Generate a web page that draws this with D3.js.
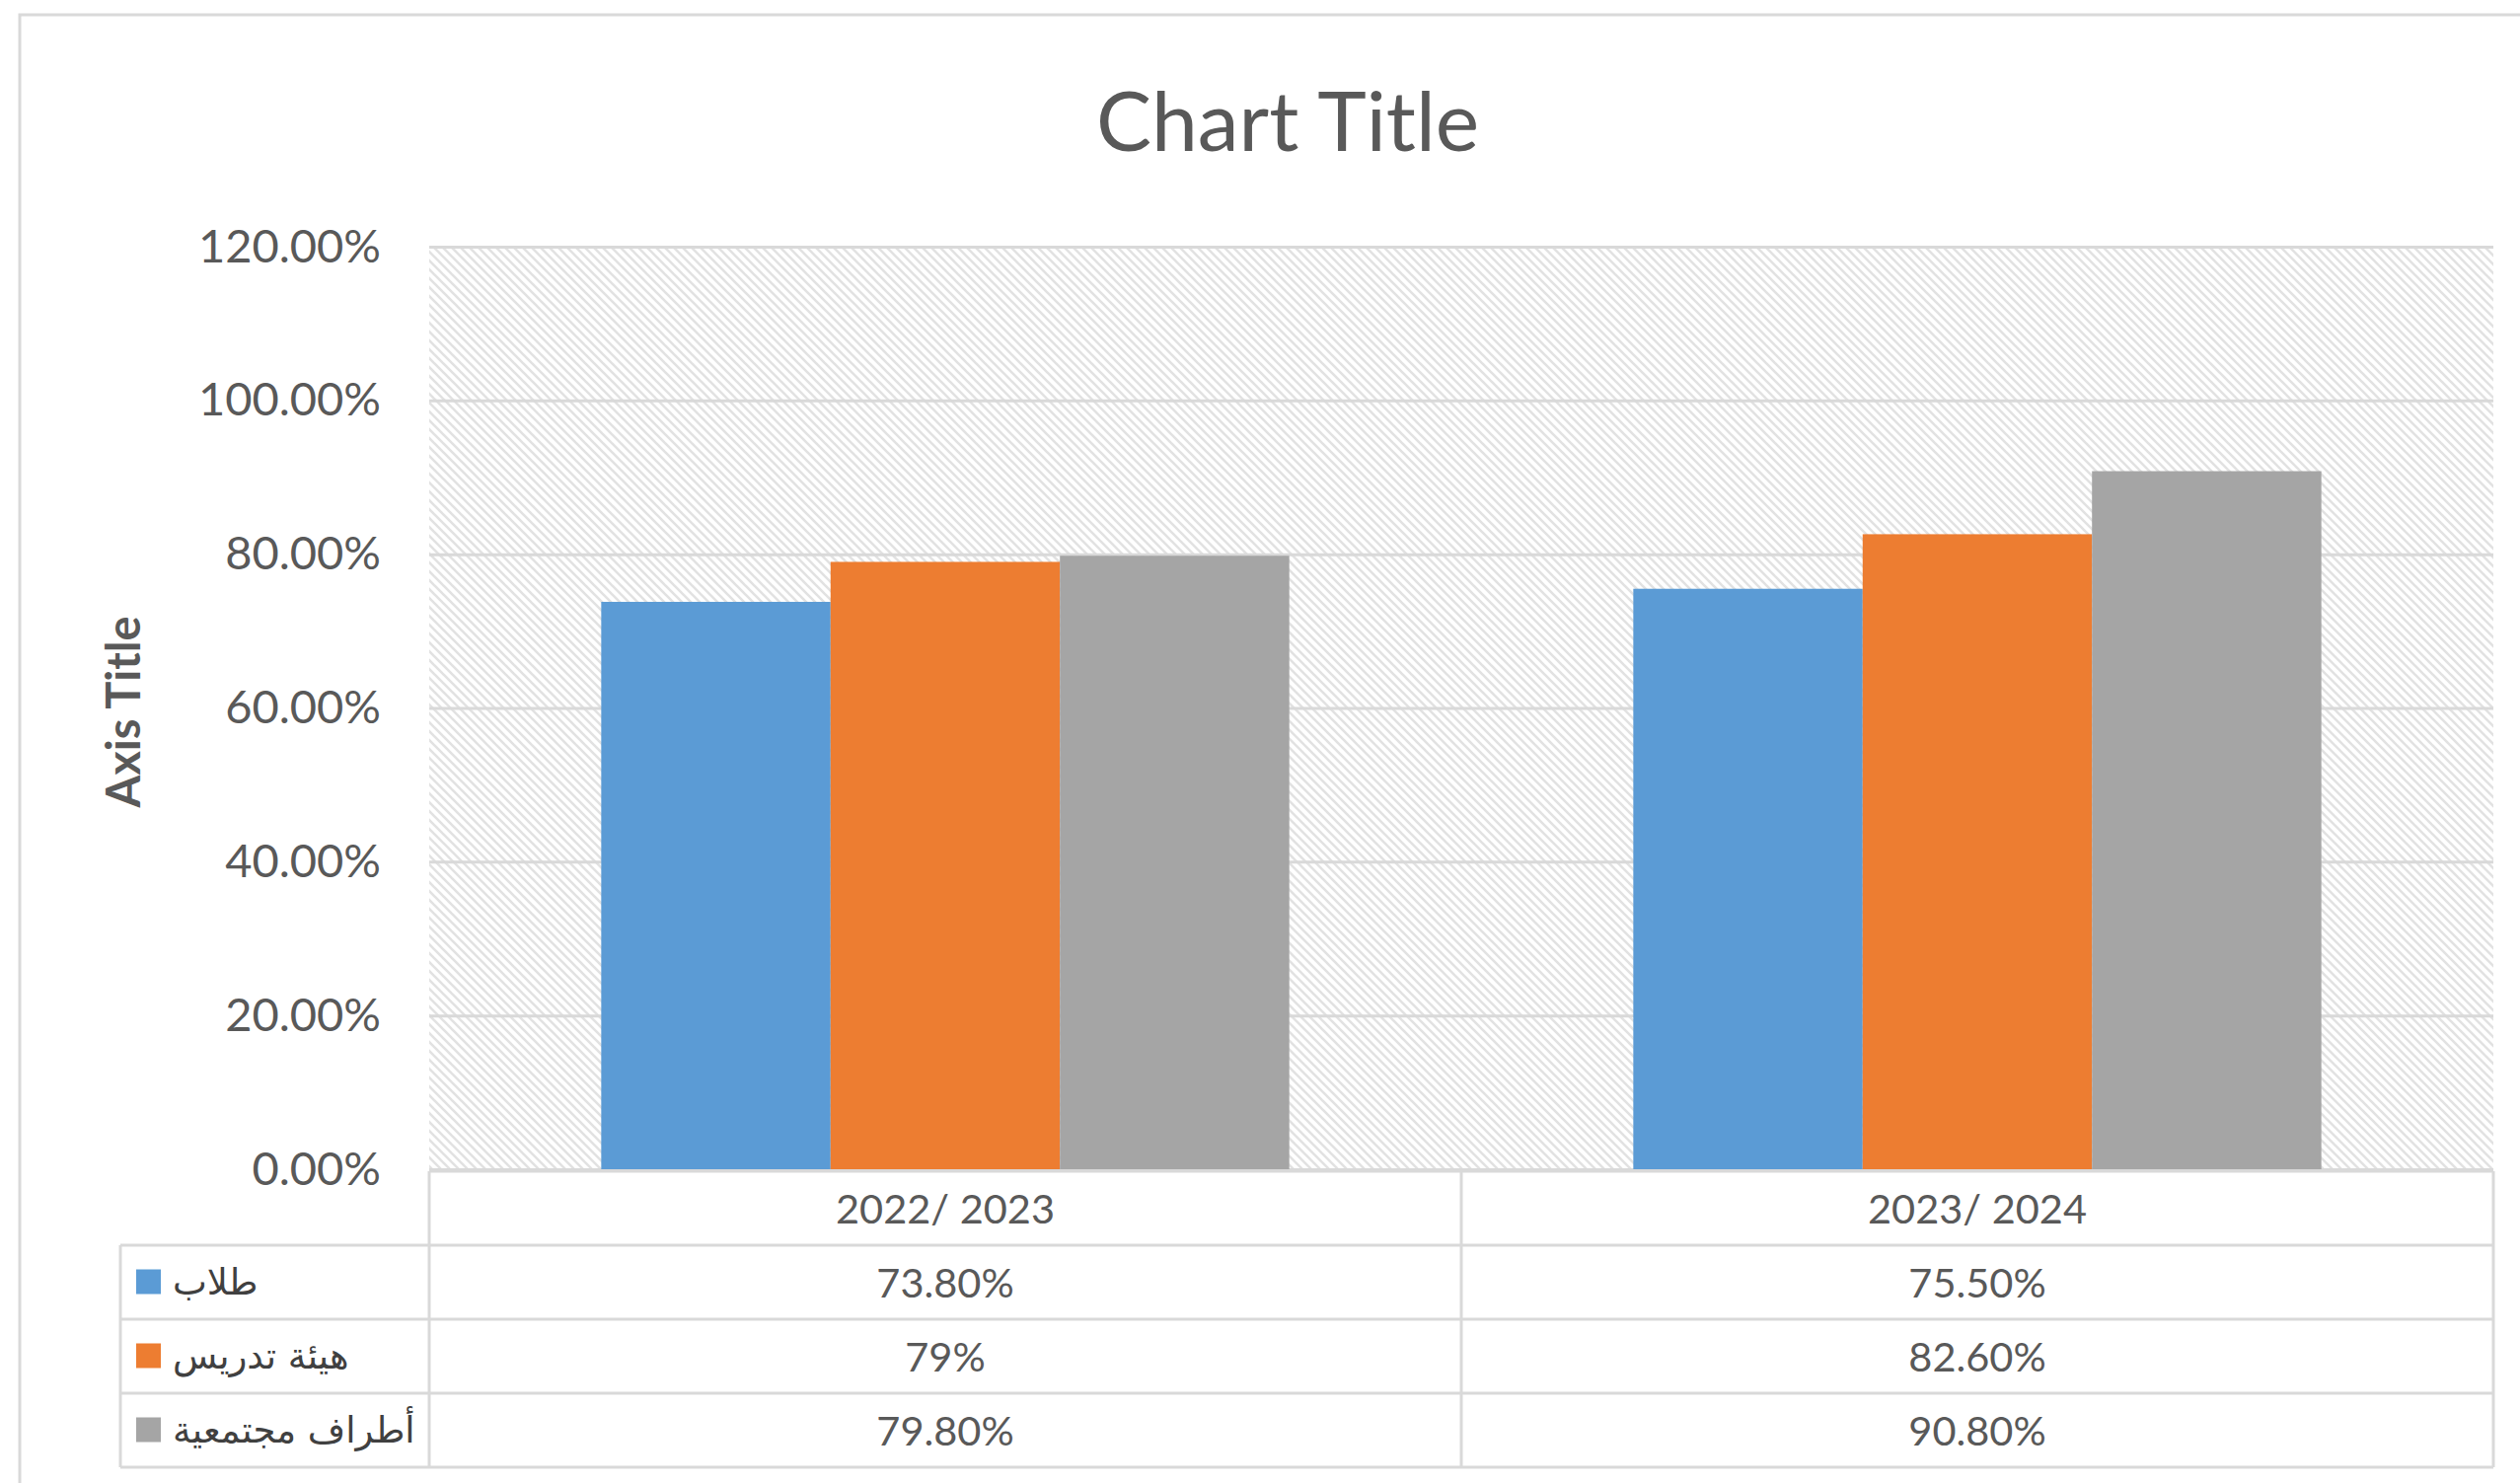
<!DOCTYPE html>
<html>
<head>
<meta charset="utf-8">
<script src="https://cdn.jsdelivr.net/npm/d3@7"></script>
<style>
	body { margin: 0; background: #fff; }
	svg { display: block; }
	text { font-family: Lato, 'Open Sans', sans-serif; fill: #595959; }
	.ar { font-family: 'DejaVu Sans', sans-serif; fill: #404040; }
</style>
</head>
<body>
<svg id="main-svg" width="2554" height="1503"></svg>
<script>
// data
const categories = ['2022/ 2023', '2023/ 2024'];
const seriesNames = ['طلاب', 'هيئة تدريس', 'أطراف مجتمعية'];
const seriesColors = ['#5B9BD5', '#ED7D31', '#A5A5A5'];
const students = [0.738, 0.755];
const faculty = [0.79, 0.826];
const community = [0.798, 0.908];
const yTicks = [0, 0.2, 0.4, 0.6, 0.8, 1.0, 1.2];

const seriesValues = [students, faculty, community];

const W = 2554, H = 1503;
const plot = { left: 435, right: 2527, top: 250, bottom: 1185 };
const tableTop = 1187, rowH = 75, tableLeft = 122;

var svg = d3.select('#main-svg');

// chart frame
svg.append('rect')
	.attr('x', 20).attr('y', 15)
	.attr('width', W + 20).attr('height', H + 20)
	.attr('fill', '#fff')
	.attr('stroke', '#d9d9d9')
	.attr('stroke-width', 3);

// hatch pattern for plot area
let defs = svg.append('defs');
let pat = defs.append('pattern')
	.attr('id', 'hatch')
	.attr('patternUnits', 'userSpaceOnUse')
	.attr('width', 9).attr('height', 9);
pat.append('path')
	.attr('d', 'M0,0 L9,9 M-2,7 L2,11 M7,-2 L11,2')
	.attr('stroke', '#e2e2e2')
	.attr('stroke-width', 2.6);

let x0 = d3.scaleBand()
	.domain(categories)
	.range([plot.left, plot.right])
	.padding(0);

let x1 = d3.scaleBand()
	.domain(d3.range(seriesNames.length))
	.range([0, x0.bandwidth()])
	.paddingInner(0)
	.paddingOuter(0.75);

let y = d3.scaleLinear()
	.domain([0, 1.2])
	.range([plot.bottom, plot.top]);

svg.append('rect')
	.attr('x', plot.left).attr('y', plot.top)
	.attr('width', plot.right - plot.left)
	.attr('height', plot.bottom - plot.top)
	.attr('fill', 'url(#hatch)');

// gridlines
let grid = svg.append('g')
	.attr('transform', `translate(${plot.left},0)`)
	.call(d3.axisLeft(y).tickValues(yTicks).tickSize(-(plot.right - plot.left)).tickFormat(''));
grid.select('.domain').remove();
grid.selectAll('line').attr('stroke', '#d9d9d9').attr('stroke-width', 3);

// y axis labels
let yAxis = svg.append('g')
	.attr('transform', `translate(${plot.left},0)`)
	.call(d3.axisLeft(y).tickValues(yTicks).tickSize(0).tickPadding(49).tickFormat(d3.format('.2%')));
yAxis.select('.domain').remove();
yAxis.selectAll('text')
	.attr('font-size', 47)
	.attr('fill', '#595959')
	.style('font-family', "Lato, 'Open Sans', sans-serif");

// bars
let groups = svg.append('g')
	.selectAll('g')
	.data(categories)
	.enter().append('g')
	.attr('transform', d => `translate(${x0(d)},0)`);

groups.selectAll('rect')
	.data((d, ci) => seriesValues.map((s, si) => ({ si: si, v: s[ci] })))
	.enter().append('rect')
	.attr('x', d => x1(d.si))
	.attr('width', x1.bandwidth())
	.attr('y', d => y(d.v))
	.attr('height', d => y(0) - y(d.v))
	.attr('fill', d => seriesColors[d.si]);

// title
svg.append('text')
	.attr('x', 1305).attr('y', 153)
	.attr('text-anchor', 'middle')
	.attr('font-size', 84)
	.text('Chart Title');

svg.append('text')
	.attr('transform', `translate(142,${(plot.top + plot.bottom) / 2 + 4}) rotate(-90)`)
	.attr('text-anchor', 'middle')
	.attr('font-size', 47)
	.attr('font-weight', 'bold')
	.text('Axis Title');

// data table
const tableBottom = tableTop + rowH * (seriesNames.length + 1);
let tbl = svg.append('g')
	.attr('stroke', '#d9d9d9')
	.attr('stroke-width', 3);

tbl.append('line')
	.attr('x1', plot.left).attr('x2', plot.right)
	.attr('y1', tableTop).attr('y2', tableTop);
tbl.selectAll('.hrow')
	.data(d3.range(1, seriesNames.length + 2))
	.enter().append('line')
	.attr('x1', tableLeft).attr('x2', plot.right)
	.attr('y1', i => tableTop + i * rowH)
	.attr('y2', i => tableTop + i * rowH);
tbl.selectAll('.vcol')
	.data(categories.map(c => x0(c)).concat([plot.right]))
	.enter().append('line')
	.attr('x1', d => d).attr('x2', d => d)
	.attr('y1', tableTop).attr('y2', tableBottom);
tbl.append('line')
	.attr('x1', tableLeft).attr('x2', tableLeft)
	.attr('y1', tableTop + rowH).attr('y2', tableBottom);

svg.append('g')
	.selectAll('text')
	.data(categories)
	.enter().append('text')
	.attr('x', d => x0(d) + x0.bandwidth() / 2)
	.attr('y', tableTop + rowH / 2 + 15)
	.attr('text-anchor', 'middle')
	.attr('font-size', 41.5)
	.text(d => d);

function fmtPct(v) {
	return Math.abs(v * 100 - Math.round(v * 100)) < 1e-9 ? d3.format('.0%')(v) : d3.format('.2%')(v);
}

let rows = svg.append('g')
	.selectAll('g')
	.data(seriesNames)
	.enter().append('g')
	.attr('transform', (d, i) => `translate(0,${tableTop + (i + 1) * rowH + rowH / 2})`);

rows.append('rect')
	.attr('x', 138).attr('y', -13)
	.attr('width', 25).attr('height', 25)
	.attr('fill', (d, i) => seriesColors[i]);

rows.append('text')
	.classed('ar', true)
	.attr('x', 175).attr('y', 12)
	.attr('font-size', 37)
	.text(d => d);

rows.selectAll('.val')
	.data((d, i) => seriesValues[i].map((v, ci) => ({ v: v, c: categories[ci] })))
	.enter().append('text')
	.attr('x', d => x0(d.c) + x0.bandwidth() / 2)
	.attr('y', 15)
	.attr('text-anchor', 'middle')
	.attr('font-size', 41.5)
	.text(d => fmtPct(d.v));
</script>
</body>
</html>
